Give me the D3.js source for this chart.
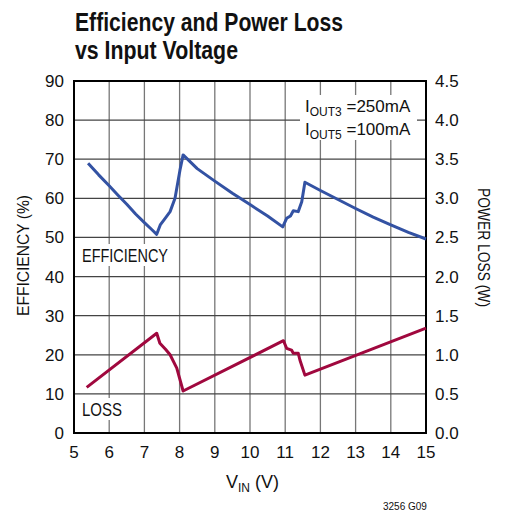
<!DOCTYPE html>
<html>
<head>
<meta charset="utf-8">
<script src="https://cdn.jsdelivr.net/npm/d3@7"></script>
<style>
  body { margin: 0; background: #fff; }
  text { font-family: "Liberation Sans", Arial, sans-serif; fill: #111; }
</style>
</head>
<body>
<div id="chart"></div>
<script>
// efficiency curve (%) vs input voltage
var effVin = [5.4, 5.7, 6, 6.25, 6.5, 6.75, 7, 7.2, 7.35, 7.45, 7.6, 7.73, 7.87, 8.01, 8.1,
              8.5, 9, 9.5, 10, 10.5, 10.93, 11.04, 11.15, 11.23, 11.37, 11.47, 11.56,
              12, 12.5, 13, 13.5, 14, 14.5, 15];
var effPct = [69, 66, 63.2, 60.8, 58.5, 56, 53.8, 52.1, 50.8, 53.2, 55, 56.6, 60, 67.2, 71.1,
              67.6, 64.4, 61.3, 58.4, 55.5, 52.7, 54.9, 55.5, 56.8, 56.6, 59.1, 64.1,
              62, 59.7, 57.4, 55.2, 53.2, 51.3, 49.6];

// power loss curve (W) vs input voltage
var lossVin = [5.36, 7.35, 7.44, 7.6, 7.73, 7.92, 8.1, 10.95, 11.04, 11.18, 11.23, 11.37, 11.42, 11.56, 15];
var lossW   = [0.584, 1.275, 1.147, 1.07, 1.0, 0.83, 0.537, 1.18, 1.083, 1.06, 1.02, 1.02, 0.93, 0.74, 1.34];

var xTicks = [5, 6, 7, 8, 9, 10, 11, 12, 13, 14, 15];
var leftTicks = [0, 10, 20, 30, 40, 50, 60, 70, 80, 90];
var rightTicks = [0, 0.5, 1, 1.5, 2, 2.5, 3, 3.5, 4, 4.5];

var W = 509, H = 512;
var plotL = 74, plotR = 426, plotT = 81, plotB = 433;

var svg = d3.select("#chart").append("svg")
            .attr("width", W)
            .attr("height", H);

var x = d3.scaleLinear().domain([5, 15]).range([plotL, plotR]);
var yL = d3.scaleLinear().domain([0, 90]).range([plotB, plotT]);
var yR = d3.scaleLinear().domain([0, 4.5]).range([plotB, plotT]);

// narrow text: squeeze to the width seen on the reference
function squeeze(sel, len) {
  return sel.attr("textLength", len).attr("lengthAdjust", "spacingAndGlyphs");
}

// title
squeeze(svg.append("text").attr("x", 75).attr("y", 31)
   .attr("font-size", 25).attr("font-weight", "bold")
   .text("Efficiency and Power Loss"), 268);
squeeze(svg.append("text").attr("x", 75).attr("y", 59)
   .attr("font-size", 25).attr("font-weight", "bold")
   .text("vs Input Voltage"), 163);

// grid
var grid = svg.append("g");
grid.selectAll(".vg").data(xTicks.slice(1, -1)).enter().append("line")
    .attr("x1", d => x(d)).attr("x2", d => x(d))
    .attr("y1", plotT).attr("y2", plotB)
    .attr("stroke", "#777").attr("stroke-width", 1.3);
grid.selectAll(".hg").data(leftTicks.slice(1, -1)).enter().append("line")
    .attr("x1", plotL).attr("x2", plotR)
    .attr("y1", d => yL(d)).attr("y2", d => yL(d))
    .attr("stroke", "#444").attr("stroke-width", 1.3);

// white boxes behind labels
svg.append("rect").attr("x", 300).attr("y", 95).attr("width", 117).attr("height", 45).attr("fill", "#fff");
svg.append("rect").attr("x", 78).attr("y", 244).attr("width", 94).attr("height", 22).attr("fill", "#fff");
svg.append("rect").attr("x", 78).attr("y", 398).attr("width", 48).attr("height", 22).attr("fill", "#fff");

// frame
svg.append("rect").attr("x", plotL).attr("y", plotT)
   .attr("width", plotR - plotL).attr("height", plotB - plotT)
   .attr("fill", "none").attr("stroke", "#000").attr("stroke-width", 2);

// tick labels
svg.selectAll(".xt").data(xTicks).enter().append("text")
   .attr("x", d => x(d)).attr("y", 458)
   .attr("text-anchor", "middle").attr("font-size", 17)
   .text(d => d);
svg.selectAll(".lt").data(leftTicks).enter().append("text")
   .attr("x", 64).attr("y", d => yL(d) + 6)
   .attr("text-anchor", "end").attr("font-size", 17)
   .text(d => d);
svg.selectAll(".rt").data(rightTicks).enter().append("text")
   .attr("x", 435).attr("y", d => yR(d) + 6)
   .attr("text-anchor", "start").attr("font-size", 17)
   .text(d => d.toFixed(1));

// axis titles
squeeze(svg.append("text")
   .attr("transform", "translate(29,256) rotate(-90)")
   .attr("x", -60).attr("font-size", 17)
   .text("EFFICIENCY (%)"), 121);
squeeze(svg.append("text")
   .attr("transform", "translate(478,247) rotate(90)")
   .attr("x", -59).attr("font-size", 17)
   .text("POWER LOSS (W)"), 119);

var xt = svg.append("text").attr("x", 226).attr("y", 488).attr("font-size", 18);
xt.append("tspan").text("V");
xt.append("tspan").attr("font-size", 12).attr("dy", 4).text("IN");
xt.append("tspan").attr("dy", -4).text(" (V)");

svg.append("text").attr("x", 383).attr("y", 510).attr("font-size", 10).text("3256 G09");

// conditions
var c1 = svg.append("text").attr("x", 305).attr("y", 112).attr("font-size", 17);
c1.append("tspan").text("I");
c1.append("tspan").attr("font-size", 12).attr("dy", 4).text("OUT3");
c1.append("tspan").attr("dy", -4).text(" =250mA");
var c2 = svg.append("text").attr("x", 305).attr("y", 135).attr("font-size", 17);
c2.append("tspan").text("I");
c2.append("tspan").attr("font-size", 12).attr("dy", 4).text("OUT5");
c2.append("tspan").attr("dy", -4).text(" =100mA");

// curve labels
squeeze(svg.append("text").attr("x", 82).attr("y", 262).attr("font-size", 18).text("EFFICIENCY"), 86);
squeeze(svg.append("text").attr("x", 82).attr("y", 416).attr("font-size", 18).text("LOSS"), 40);

// curves
var effLine = d3.line()
    .x((d, i) => x(effVin[i]))
    .y(d => yL(d));
svg.append("path").datum(effPct)
   .attr("d", effLine)
   .attr("fill", "none").attr("stroke", "#3352a3").attr("stroke-width", 3)
   .attr("stroke-linejoin", "round");

var lossLine = d3.line()
    .x((d, i) => x(lossVin[i]))
    .y(d => yR(d));
svg.append("path").datum(lossW)
   .attr("d", lossLine)
   .attr("fill", "none").attr("stroke", "#a0083e").attr("stroke-width", 3)
   .attr("stroke-linejoin", "round");
</script>
</body>
</html>
